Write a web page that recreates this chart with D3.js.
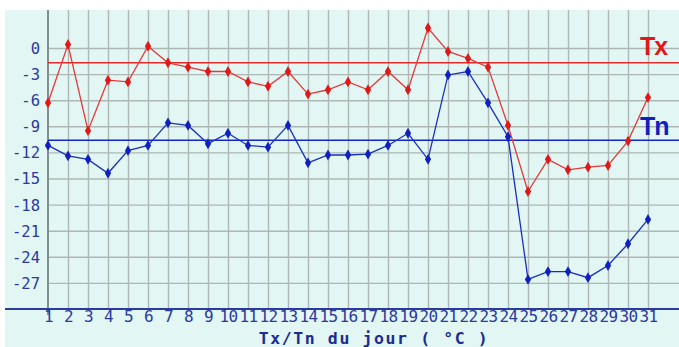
<!DOCTYPE html>
<html><head><meta charset="utf-8">
<script src="https://cdn.jsdelivr.net/npm/d3@7/dist/d3.min.js"></script>
<style>
html,body{margin:0;padding:0;background:#fff;}
svg{display:block;}
</style></head>
<body>
<svg id="c" width="679" height="347"></svg>
<script>
const days = d3.range(1, 32);
const tx = [-6.3,0.4,-9.5,-3.7,-3.9,0.2,-1.7,-2.2,-2.7,-2.7,-3.9,-4.4,-2.7,-5.3,-4.8,-3.9,-4.8,-2.7,-4.8,2.3,-0.4,-1.2,-2.2,-8.9,-16.5,-12.8,-14.0,-13.7,-13.5,-10.7,-5.7];
const tn = [-11.2,-12.4,-12.8,-14.4,-11.8,-11.2,-8.6,-8.9,-11.0,-9.8,-11.2,-11.4,-8.9,-13.2,-12.3,-12.3,-12.2,-11.2,-9.8,-12.8,-3.1,-2.7,-6.3,-10.2,-26.6,-25.7,-25.7,-26.4,-25.0,-22.5,-19.7];
const txMean = -1.7;
const tnMean = -10.6;
const yTicks = [0,-3,-6,-9,-12,-15,-18,-21,-24,-27];
const xTickLabels = days.map(String);
const title = "Tx/Tn du jour ( °C )";

const svg = d3.select("#c");
const bg = "#e2f6f4";
svg.append("rect").attr("x",5).attr("y",10).attr("width",674).attr("height",337).attr("fill",bg);

const x = d3.scaleLinear().domain([1,31]).range([48,648]);
const y = d3.scaleLinear().domain([-30,0]).range([309,48]);
const plotTop = 10, plotRight = 679;

// horizontal grid
const gy = svg.append("g").attr("transform","translate(48,0)")
  .call(d3.axisLeft(y).tickValues(yTicks).tickSize(-(plotRight-48)).tickFormat(""));
gy.select(".domain").remove();
gy.selectAll("line").attr("stroke","#adb8b5").attr("stroke-width",1.4);

// vertical grid
const gx = svg.append("g").attr("transform","translate(0,309)")
  .call(d3.axisBottom(x).tickValues(days.slice(1)).tickSize(-(309-plotTop)).tickFormat(""));
gx.select(".domain").remove();
gx.selectAll("line").attr("stroke","#adb8b5").attr("stroke-width",1.4);

// left axis line
svg.append("line").attr("x1",48).attr("x2",48).attr("y1",plotTop).attr("y2",315)
  .attr("stroke","#7f908e").attr("stroke-width",2);

// y tick labels
const yl = svg.append("g").attr("transform","translate(40,0)")
  .call(d3.axisLeft(y).tickValues(yTicks).tickSize(0).tickPadding(0).tickFormat(d=>d===0?"0":"-"+Math.abs(d)));
yl.select(".domain").remove();
yl.selectAll("text").attr("fill","#2a3a9e").attr("font-family","DejaVu Sans Mono").attr("font-size",15.5)
  .attr("dy","0.35em").attr("x",0);

// mean lines
svg.append("line").attr("x1",48).attr("x2",plotRight).attr("y1",y(txMean)).attr("y2",y(txMean))
  .attr("stroke","#e02a2a").attr("stroke-width",1.6);
svg.append("line").attr("x1",48).attr("x2",plotRight).attr("y1",y(tnMean)).attr("y2",y(tnMean))
  .attr("stroke","#1426c0").attr("stroke-width",1.6);

// x axis
const xa = svg.append("g").attr("transform","translate(0,309)")
  .call(d3.axisBottom(x).tickValues(days).tickSize(0).tickPadding(2).tickFormat((d,i)=>xTickLabels[i]));
xa.select(".domain").remove();
xa.selectAll("text").attr("fill","#2a3a9e").attr("font-family","DejaVu Sans Mono").attr("font-size",16)
  .attr("letter-spacing","-0.6").attr("dy","0.71em");
svg.append("line").attr("x1",5).attr("x2",plotRight).attr("y1",309).attr("y2",309)
  .attr("stroke","#2a3a9e").attr("stroke-width",2);

// series
const line = d3.line().x((d,i)=>x(days[i])).y(d=>y(d));
function series(data, lc, mc){
  svg.append("path").datum(data).attr("d",line).attr("fill","none").attr("stroke",lc).attr("stroke-width",1.3);
  svg.append("g").selectAll("path").data(data).join("path")
    .attr("d",d3.symbol(d3.symbolDiamond,34))
    .attr("transform",(d,i)=>`translate(${x(days[i])},${y(d)})`)
    .attr("fill",mc);
}
series(tx,"#e23a3a","#e01818");
series(tn,"#1a2fc0","#1020c0");

// labels
svg.append("text").attr("x",640).attr("y",55).text("Tx")
  .attr("fill","#e01818").attr("font-family","Liberation Sans").attr("font-weight","bold").attr("font-size",25)
  .attr("letter-spacing","-1");
svg.append("text").attr("x",640).attr("y",135).text("Tn")
  .attr("fill","#1020c0").attr("font-family","Liberation Sans").attr("font-weight","bold").attr("font-size",25)
  .attr("letter-spacing","-1");

svg.append("text").attr("x",374).attr("y",344).attr("text-anchor","middle").text(title)
  .attr("fill","#1c2c90").attr("font-family","DejaVu Sans Mono").attr("font-weight","bold")
  .attr("font-size",16.5).attr("letter-spacing","1.6");
</script>
</body></html>
